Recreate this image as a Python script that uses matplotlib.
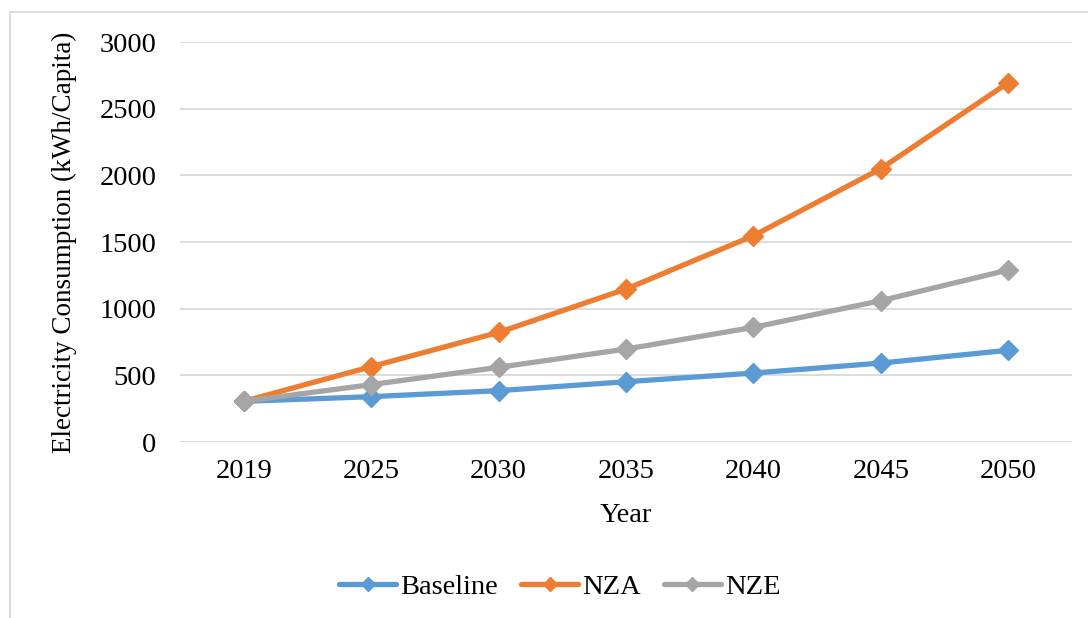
import matplotlib.pyplot as plt
from matplotlib.lines import Line2D

years = ['2019', '2025', '2030', '2035', '2040', '2045', '2050']
baseline = [305, 340, 385, 452, 517, 592, 688]
nza = [305, 565, 822, 1147, 1547, 2050, 2695]
nze = [305, 430, 560, 697, 860, 1060, 1290]

colors = {'Baseline': '#5B9BD5', 'NZA': '#ED7D31', 'NZE': '#A5A5A5'}

plt.rcParams['font.family'] = ['Liberation Serif', 'DejaVu Serif']
FS = 20.5

W, H = 1088, 618
fig = plt.figure(figsize=(W / 100, H / 100), dpi=100)
ax = fig.add_axes([180 / W, 1 - 442 / H, (1072 - 180) / W, (442 - 42) / H])

x = range(len(years))
for name, vals in [('Baseline', baseline), ('NZA', nza), ('NZE', nze)]:
    ax.plot(x, vals, color=colors[name], lw=3.8, marker='D', ms=10,
            label=name, solid_capstyle='round')

ax.set_xlim(-0.5, len(years) - 0.5)
ax.set_ylim(0, 3000)
ax.set_yticks(range(0, 3001, 500))
ax.set_xticks(list(x))
ax.set_xticklabels(years)
ax.grid(axis='y', color='#D9D9D9', lw=1.3)
ax.set_axisbelow(True)
for s in ax.spines.values():
    s.set_visible(False)
ax.tick_params(length=0, labelsize=FS, colors='black', pad=12)
ax.tick_params(axis='y', pad=17)

ax.set_xlabel('Year', fontsize=FS, labelpad=14)
ax.set_ylabel('Electricity Consumption (kWh/Capita)', fontsize=19.5, labelpad=16)

leg = ax.legend(loc='center', bbox_to_anchor=(560 / W, 1 - 587 / H),
                bbox_transform=fig.transFigure, ncol=3, frameon=False,
                fontsize=FS, handlelength=2.0, handletextpad=0.15,
                columnspacing=0.8, markerscale=0.75)

# outer chart border (top and left edges)
fig.add_artist(Line2D([10 / W, 1], [1 - 12 / H, 1 - 12 / H],
                      transform=fig.transFigure, color='#D9D9D9', lw=1.3))
fig.add_artist(Line2D([10 / W, 10 / W], [1 - 12 / H, 0],
                      transform=fig.transFigure, color='#D9D9D9', lw=1.3))

fig.savefig('out.png', dpi=100)
